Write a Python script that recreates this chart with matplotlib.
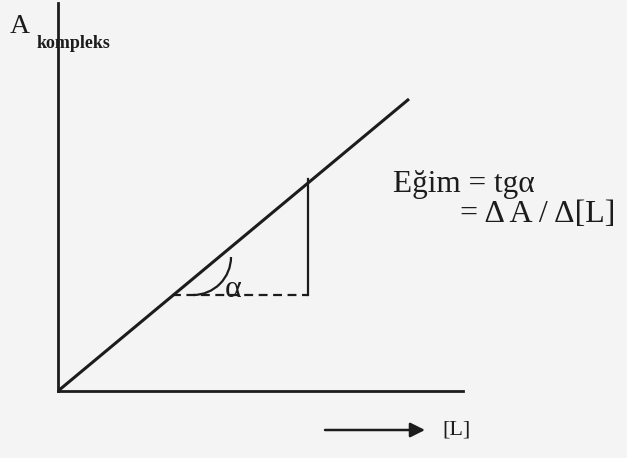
import matplotlib.pyplot as plt
from matplotlib.patches import Arc

# Straight calibration line from the origin
line_x = [0.0, 3.51]
line_y = [0.0, 2.92]

# Slope triangle under the line
tri_x = [1.14, 2.50]
tri_base = 0.96
tri_top = 2.12

# Angle arc (centre, radius)
arc_center = (1.35, 1.34)
arc_r = 0.38

ink = '#1c1c1c'
bg = '#f3f4f3'
serif = ['Liberation Serif', 'DejaVu Serif']

fig = plt.figure(figsize=(6.27, 4.58), dpi=100, facecolor=bg)
ax = fig.add_axes([58 / 627, 67 / 458, 405 / 627, 388 / 458])
ax.set_facecolor(bg)
ax.set_xlim(0, 4.05)
ax.set_ylim(0, 3.88)
for side in ['top', 'right']:
    ax.spines[side].set_visible(False)
for side in ['left', 'bottom']:
    ax.spines[side].set_linewidth(2)
    ax.spines[side].set_color(ink)
ax.set_xticks([])
ax.set_yticks([])

# Main line
ax.plot(line_x, line_y, color=ink, lw=2.2, solid_capstyle='butt')

# Dashed run and vertical rise
ax.plot(tri_x, [tri_base, tri_base], color=ink, lw=1.6, dashes=(4, 2.5))
ax.plot([tri_x[1], tri_x[1]], [tri_base, tri_top], color=ink, lw=1.6)

# Angle mark
ax.add_patch(Arc(arc_center, 2 * arc_r, 2 * arc_r, theta1=270, theta2=360,
                 color=ink, lw=1.6))
ax.text(1.67, 0.94, 'α', fontsize=23, family=serif, color=ink, va='baseline')

# Axis labels
ax.text(-0.48, 3.58, 'A', fontsize=20, family=serif, color=ink, va='baseline')
ax.text(-0.21, 3.43, 'kompleks', fontsize=13, family=serif, weight='bold',
        color=ink, va='baseline')

ax.annotate('', xy=(3.67, -0.39), xytext=(2.67, -0.39),
            xycoords='data', annotation_clip=False,
            arrowprops=dict(arrowstyle='-|>', color=ink, lw=1.8,
                            mutation_scale=22, shrinkA=0, shrinkB=0))
ax.text(3.84, -0.39, '[L]', fontsize=16, family=serif, color=ink, va='center')

# Slope formula
ax.text(3.35, 1.99, 'Eğim = tgα', fontsize=22.5, family=serif, color=ink,
        va='baseline')
ax.text(4.02, 1.69, '= Δ A / Δ[L]', fontsize=23, family=serif, color=ink,
        va='baseline')

fig.savefig('out.png', dpi=100, facecolor=bg)
